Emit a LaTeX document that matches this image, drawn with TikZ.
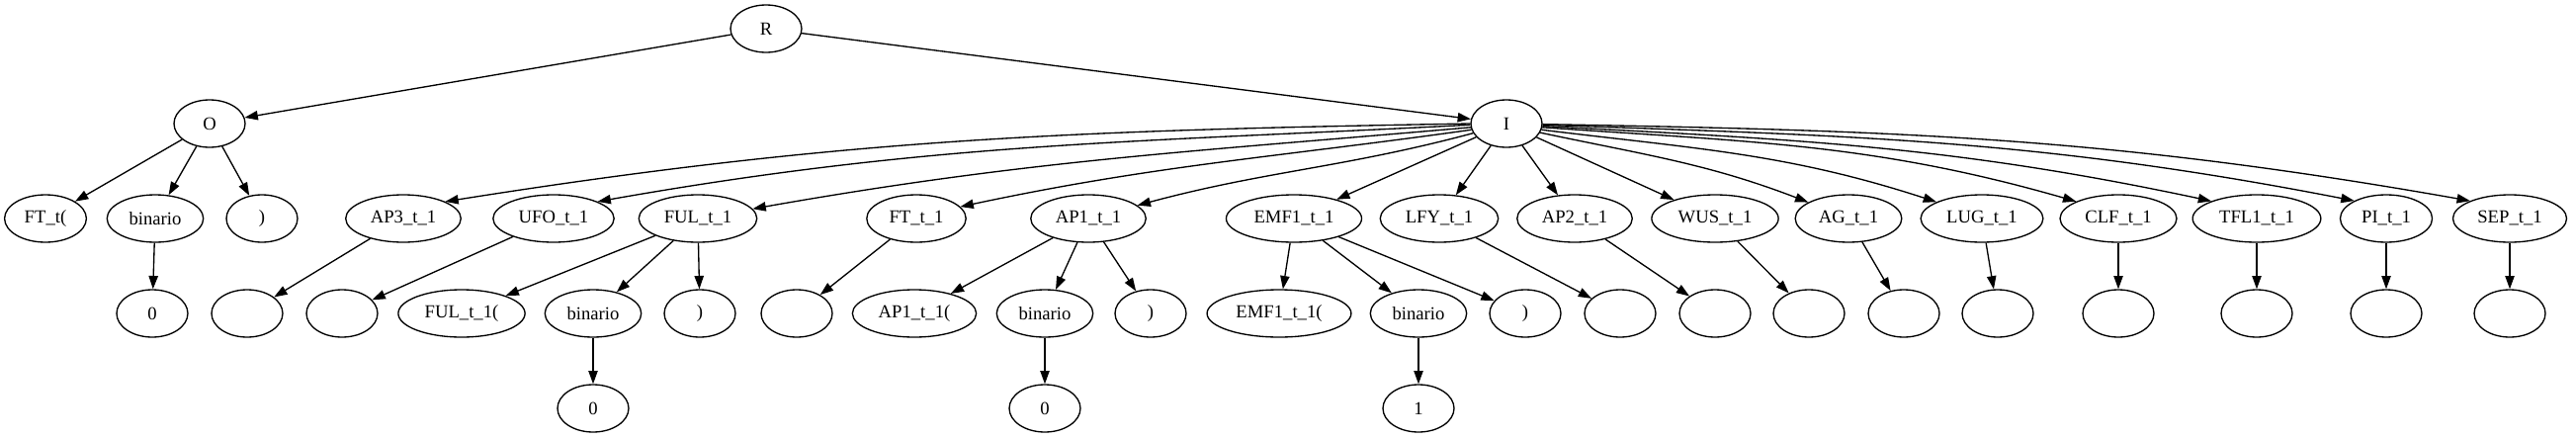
\documentclass[tikz,border=0pt]{standalone}
\usepackage{fontspec}
\setmainfont{Liberation Serif}
\usetikzlibrary{shapes.geometric, arrows.meta}

\tikzset{
  tn/.style={draw, ellipse, line width=1pt, minimum width=54pt, minimum height=36pt,
    inner xsep=6pt, inner ysep=2pt, font=\fontsize{14}{16}\selectfont},
  tedge/.style={-{Triangle[length=10pt, width=7pt]}, line width=1pt},
}

\begin{document}
\begin{tikzpicture}[x=0.75pt, y=-0.75pt]
    \useasboundingbox (0,0) rectangle (2606,443);

    % Root and first level
    \node[tn] (R) at (775,29) {R};
    \node[tn] (O) at (212,125) {O};
    \node[tn] (I) at (1524,125) {I};
    \draw[tedge] (R) -- (O);
    \draw[tedge] (R) -- (I);

    % Branch O
    \node[tn] (ftO) at (46,221) {FT\_t(};
    \node[tn] (binO) at (157,221) {binario};
    \node[tn] (closeO) at (265,221) {)};
    \node[tn] (zeroO) at (154,317) {0};
    \draw[tedge] (O) -- (ftO);
    \draw[tedge] (O) -- (binO);
    \draw[tedge] (O) -- (closeO);
    \draw[tedge] (binO) -- (zeroO);

    % Genes with one empty child
    \foreach \nm/\lbl/\x/\vx in {ap3/AP3/408/250, ufo/UFO/560/346, ft/FT/927/806,
        lfy/LFY/1456/1639, ap2/AP2/1593/1735, wus/WUS/1735/1830, ag/AG/1870/1926,
        lug/LUG/2005/2021, clf/CLF/2143/2143, tfl/TFL1/2283/2283, pi/PI/2414/2414,
        sep/SEP/2539/2539} {
      \node[tn] (\nm) at (\x,221) {\lbl\_t\_1};
      \node[tn] (\nm v) at (\vx,317) {};
      \draw[tedge] (\nm) -- (\nm v);
    }

    % Genes with a binario value
    \foreach \nm/\lbl/\x in {ful/FUL/706, ap1/AP1/1101, emf/EMF1/1309} {
      \node[tn] (\nm) at (\x,221) {\lbl\_t\_1};
    }
    \node[tn] (fulopen) at (467,317) {FUL\_t\_1(};
    \node[tn] (fulbin) at (600,317) {binario};
    \node[tn] (fulclose) at (708,317) {)};
    \node[tn] (fulval) at (600,413) {0};
    \node[tn] (ap1open) at (925,317) {AP1\_t\_1(};
    \node[tn] (ap1bin) at (1057,317) {binario};
    \node[tn] (ap1close) at (1164,317) {)};
    \node[tn] (ap1val) at (1057,413) {0};
    \node[tn] (emfopen) at (1294,317) {EMF1\_t\_1(};
    \node[tn] (emfbin) at (1435,317) {binario};
    \node[tn] (emfclose) at (1543,317) {)};
    \node[tn] (emfval) at (1435,413) {1};
    \foreach \nm in {ful, ap1, emf} {
      \draw[tedge] (\nm) -- (\nm open);
      \draw[tedge] (\nm) -- (\nm bin);
      \draw[tedge] (\nm) -- (\nm close);
      \draw[tedge] (\nm bin) -- (\nm val);
    }

    % Edges from I, left side
    \draw[tedge] (I.180) to[out=181, in=9] (ap3.22);
    \draw[tedge] (I.182) to[out=183, in=10] (ufo.21);
    \draw[tedge] (I.186) to[out=185, in=10] (ful.10);
    \draw[tedge] (I.190) to[out=188, in=12] (ft.15);
    \draw[tedge] (I.196) to[out=195, in=15] (ap1.15);
    \draw[tedge] (I) -- (emf);
    \draw[tedge] (I) -- (lfy);

    % Edges from I, right side
    \draw[tedge] (I) -- (ap2);
    \draw[tedge] (I) -- (wus);
    \draw[tedge] (I.-15) to[out=-12, in=159] (ag.158);
    \draw[tedge] (I.-10) to[out=-7, in=162] (lug.160);
    \draw[tedge] (I.-6) to[out=-4, in=164] (clf.158);
    \draw[tedge] (I.-4) to[out=-3, in=168] (tfl.159);
    \draw[tedge] (I.-2) to[out=-2, in=169] (pi.151);
    \draw[tedge] (I.-1) to[out=-1, in=170] (sep.156);

\end{tikzpicture}
\end{document}
